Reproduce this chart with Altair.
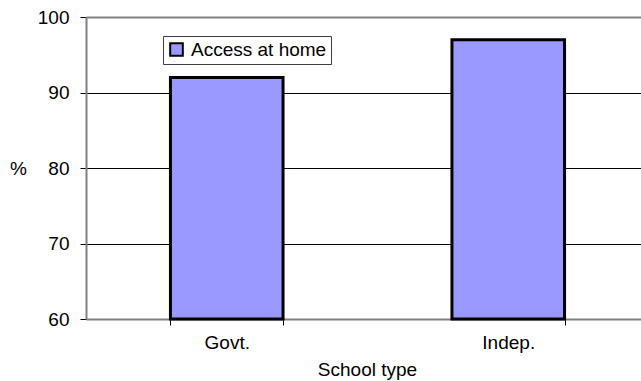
import altair as alt
import pandas as pd

categories = ["Govt.", "Indep."]
values = [92, 97]
series_name = "Access at home"
y_ticks = [60, 70, 80, 90, 100]
y_base = 60

df = pd.DataFrame({"school": categories, "pct": values, "series": [series_name] * len(categories)})

FONT = "Liberation Sans"
FS = 19

bars = alt.Chart(df).mark_bar(stroke="black", strokeWidth=3).encode(
    x=alt.X(
        "school:N",
        sort=categories,
        title="School type",
        scale=alt.Scale(paddingInner=0.6, paddingOuter=0.3, range=[0, 563]),
        axis=alt.Axis(
            labelAngle=0,
            tickBand="extent",
            domainColor="#808080",
            domainWidth=2,
            tickColor="#000000",
            tickSize=6,
            labelPadding=8,
            labelFontSize=FS,
            labelFont=FONT,
            labelColor="black",
            titleFont=FONT,
            titleFontSize=FS,
            titleFontWeight="normal",
            titleColor="black",
            titleX=281,
            titleY=56,
            titleBaseline="alphabetic",
            titleAnchor="middle",
        ),
    ),
    y=alt.Y(
        "pct:Q",
        title="%",
        scale=alt.Scale(domain=[60, 100], zero=False, nice=False),
        axis=alt.Axis(
            values=y_ticks,
            grid=True,
            gridColor={"condition": {"test": "datum.value == 100", "value": "#808080"}, "value": "black"},
            gridWidth={"condition": {"test": "datum.value == 100", "value": 2}, "value": 1},
            domainColor="#808080",
            domainWidth=2,
            tickColor="#000000",
            tickSize=6,
            labelPadding=11,
            labelFontSize=FS,
            labelFont=FONT,
            labelColor="black",
            titleFont=FONT,
            titleFontSize=FS,
            titleFontWeight="normal",
            titleColor="black",
            titleAngle=0,
            titleX=-68,
            titleY=151,
            titleAlign="center",
            titleBaseline="middle",
        ),
    ),
    y2=alt.Y2(datum=y_base),
    color=alt.Color(
        "series:N",
        scale=alt.Scale(domain=[series_name], range=["#9999FF"]),
        legend=alt.Legend(
            title=None,
            orient="none",
            legendX=77,
            legendY=19,
            symbolType="square",
            symbolSize=160,
            symbolStrokeColor="black",
            symbolStrokeWidth=2,
            labelFont=FONT,
            labelFontSize=FS,
            labelColor="black",
            labelOffset=5,
            padding=4,
            strokeColor="#404040",
            fillColor="white",
        ),
    ),
)

chart = bars.properties(
    width=555,
    height=302,
    autosize=alt.AutoSizeParams(type="none"),
    padding={"left": 86, "top": 17, "right": 0, "bottom": 62},
).configure_view(strokeWidth=0).configure(background="white")

chart.save("out.html", embed_options={"renderer": "svg", "actions": False})
